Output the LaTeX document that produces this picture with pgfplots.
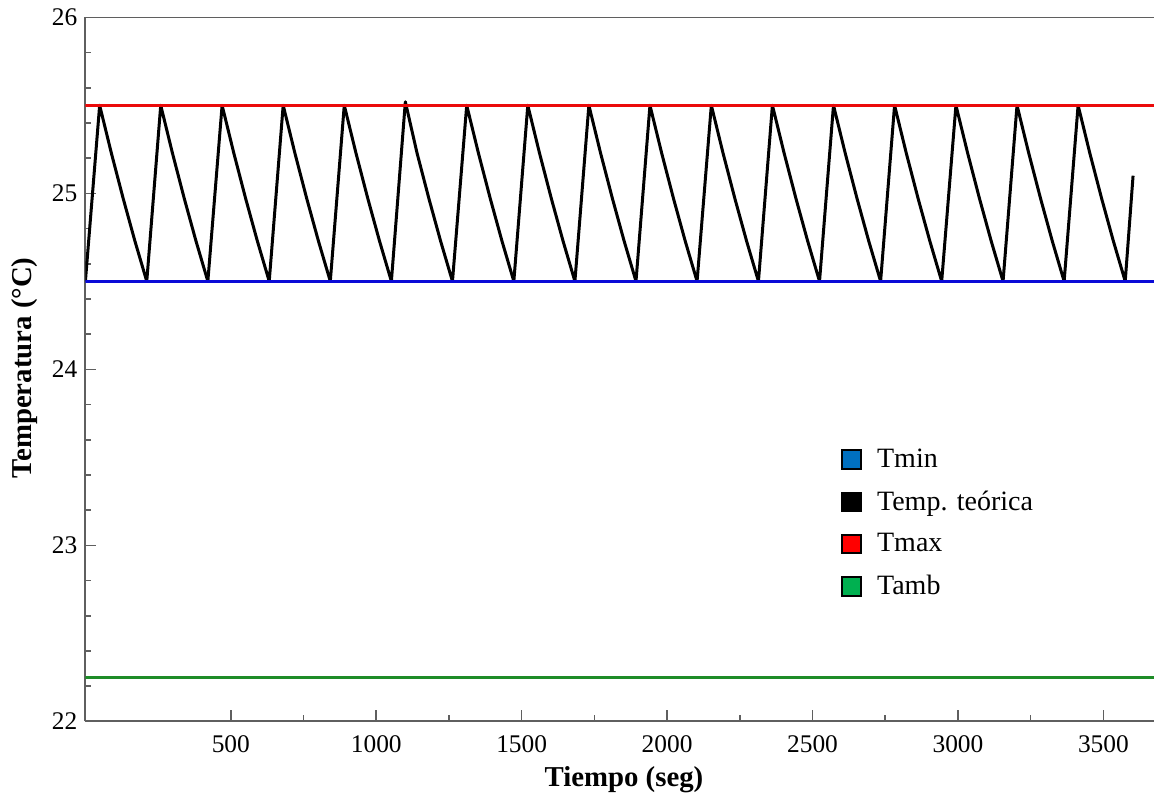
\documentclass[border=0pt]{standalone}
\usepackage{fontspec}
\setmainfont{Liberation Serif}
\usepackage{pgfplots}
\pgfplotsset{compat=1.18}
\definecolor{lineblue}{RGB}{10,10,215}
\definecolor{linered}{RGB}{235,10,10}
\definecolor{linegreen}{RGB}{30,140,40}
\definecolor{lblue}{RGB}{0,112,192}
\definecolor{lred}{RGB}{255,0,0}
\definecolor{lgreen}{RGB}{0,176,80}
\definecolor{axgray}{RGB}{95,95,95}
\begin{document}
\begin{tikzpicture}
\begin{axis}[
  scale only axis,
  width=534.3pt, height=352pt,
  xmin=0, xmax=3674, ymin=22, ymax=26,
  axis x line*=bottom, axis y line*=left,
  axis line style={-, axgray, line width=0.9pt},
  tick align=inside,
  xtick={500,1000,1500,2000,2500,3000,3500},
  ytick={22,23,24,25,26},
  minor x tick num=1, minor y tick num=4,
  major tick length=5.5pt, minor tick length=3pt,
  every tick/.style={axgray, line width=0.8pt},
  /pgf/number format/assume math mode=true,
  /pgf/number format/1000 sep={},
  tick label style={font=\fontsize{12.7}{15}\selectfont},
  xticklabel style={yshift=-3.5pt},
  yticklabel style={xshift=-0.5pt},
  xlabel={Tiempo (seg)}, ylabel={Temperatura (°C)},
  every axis x label/.style={at={(axis description cs:0.504,-0.0834)}, anchor=center, font=\fontsize{14.4}{17}\selectfont\bfseries},
  every axis y label/.style={at={(axis description cs:-0.0565,0.502)}, rotate=90, anchor=center, font=\fontsize{14.4}{17}\selectfont\bfseries},
  legend style={draw=none, fill=none, at={(axis description cs:0.707,0.392)}, anchor=north west,
    font=\fontsize{14}{17}\selectfont, row sep=7.2pt, column sep=6pt, inner sep=0pt,
    nodes={inner sep=1.5pt}},
  legend cell align=left,
  clip=true,
]
\draw[axgray, line width=0.9pt] (rel axis cs:0,1) -- (rel axis cs:1,1);
% legend images
\addlegendimage{legend image code/.code={\draw[fill=lblue, draw=black, line width=1pt] (0pt,-4.6pt) rectangle (9.4pt,4.6pt);}}
\addlegendentry{Tmin}
\addlegendimage{legend image code/.code={\draw[fill=black, draw=black, line width=1pt] (0pt,-4.6pt) rectangle (9.4pt,4.6pt);}}
\addlegendentry{Temp. teórica}
\addlegendimage{legend image code/.code={\draw[fill=lred, draw=black, line width=1pt] (0pt,-4.6pt) rectangle (9.4pt,4.6pt);}}
\addlegendentry{Tmax}
\addlegendimage{legend image code/.code={\draw[fill=lgreen, draw=black, line width=1pt] (0pt,-4.6pt) rectangle (9.4pt,4.6pt);}}
\addlegendentry{Tamb}
% Temperature sawtooth
\addplot[black, line width=1.5pt, line join=round, forget plot] coordinates {
(0,24.5) (49,25.5) (89,25.23) (130,24.97) (170,24.73) (211,24.5)
(259,25.5) (299,25.23) (340,24.97) (380,24.73) (421,24.5)
(470,25.5) (510,25.23) (551,24.97) (591,24.73) (632,24.5)
(680,25.5) (720,25.23) (761,24.97) (801,24.73) (842,24.5)
(890,25.5) (930,25.23) (971,24.97) (1011,24.73) (1052,24.5)
(1100,25.52) (1140,25.23) (1181,24.97) (1221,24.73) (1262,24.5)
(1311,25.5) (1351,25.23) (1392,24.97) (1432,24.73) (1473,24.5)
(1521,25.5) (1561,25.23) (1602,24.97) (1642,24.73) (1683,24.5)
(1731,25.5) (1771,25.23) (1812,24.97) (1852,24.73) (1893,24.5)
(1941,25.5) (1981,25.23) (2022,24.97) (2062,24.73) (2103,24.5)
(2152,25.5) (2192,25.23) (2233,24.97) (2273,24.73) (2314,24.5)
(2362,25.5) (2402,25.23) (2443,24.97) (2483,24.73) (2524,24.5)
(2572,25.5) (2612,25.23) (2653,24.97) (2693,24.73) (2734,24.5)
(2782,25.5) (2822,25.23) (2863,24.97) (2903,24.73) (2944,24.5)
(2993,25.5) (3033,25.23) (3074,24.97) (3114,24.73) (3155,24.5)
(3203,25.5) (3243,25.23) (3284,24.97) (3324,24.73) (3365,24.5)
(3413,25.5) (3453,25.23) (3494,24.97) (3534,24.73) (3575,24.5)
(3602,25.1)
};
\addplot[lineblue, line width=1.5pt, forget plot] coordinates {(0,24.5) (3674,24.5)};
\addplot[linered, line width=1.5pt, forget plot] coordinates {(0,25.5) (3674,25.5)};
\addplot[linegreen, line width=1.5pt, forget plot] coordinates {(0,22.25) (3674,22.25)};
\end{axis}
\pgfresetboundingbox
\path[use as bounding box] (-42.7pt,-38.35pt) rectangle (534.3pt,360.65pt);
\end{tikzpicture}
\end{document}
